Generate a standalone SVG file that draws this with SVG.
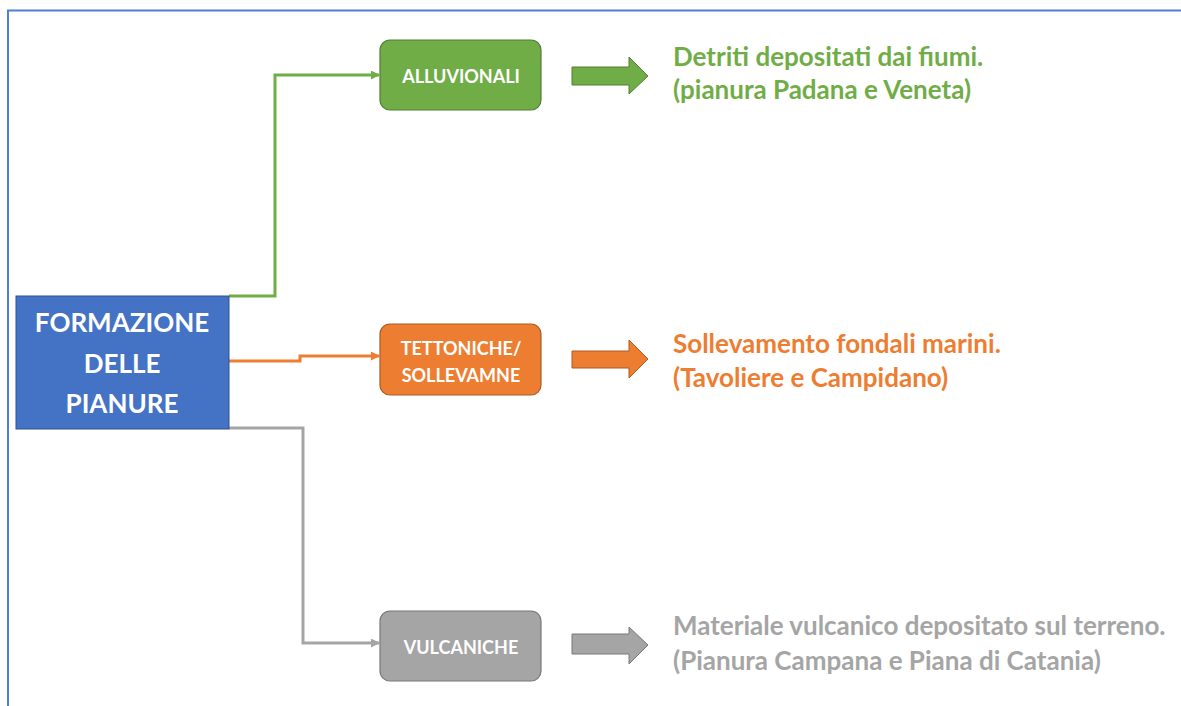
<svg xmlns="http://www.w3.org/2000/svg" width="1181" height="706" viewBox="0 0 1181 706">
<style>
.t{font-family:Lato,"Liberation Sans",sans-serif;font-weight:bold}
.w{fill:#ffffff}
.d{font-size:26px}
.b{font-size:18px}
.box{stroke-width:1.2}
.conn{fill:none;stroke-width:3}
</style>
<defs>
<marker id="ag" markerWidth="9" markerHeight="9" refX="8" refY="4.5" orient="auto" markerUnits="userSpaceOnUse"><path d="M0,0 L9,4.5 L0,9 z" fill="#70AD47"/></marker>
<marker id="ao" markerWidth="9" markerHeight="9" refX="8" refY="4.5" orient="auto" markerUnits="userSpaceOnUse"><path d="M0,0 L9,4.5 L0,9 z" fill="#ED7D31"/></marker>
<marker id="ay" markerWidth="9" markerHeight="9" refX="8" refY="4.5" orient="auto" markerUnits="userSpaceOnUse"><path d="M0,0 L9,4.5 L0,9 z" fill="#A5A5A5"/></marker>
</defs>
<rect width="1181" height="706" fill="#ffffff"/>
<path d="M8,706 L8,10.5 L1181,10.5" fill="none" stroke="#4F7FD0" stroke-width="2"/>
<g id="connectors">
<path class="conn" d="M229,296 L275,296 L275,75 L379,75" stroke="#70AD47" marker-end="url(#ag)"/>
<path class="conn" d="M229,361 L300,361 L300,356 L379,356" stroke="#ED7D31" marker-end="url(#ao)"/>
<path class="conn" d="M229,428 L303,428 L303,643 L379,643" stroke="#A5A5A5" marker-end="url(#ay)"/>
</g>
<g id="main">
<rect x="16" y="296" width="213" height="133" fill="#4472C4" stroke="#2F528F" stroke-width="1"/>
<text class="t w" x="122" y="332" font-size="26" text-anchor="middle">FORMAZIONE</text>
<text class="t w" x="122" y="373" font-size="26" text-anchor="middle">DELLE</text>
<text class="t w" x="122" y="413" font-size="26" text-anchor="middle">PIANURE</text>
</g>
<g id="alluvionali">
<rect class="box" x="380" y="40" width="161" height="70" rx="10" fill="#70AD47" stroke="#507E32"/>
<text class="t w b" x="461" y="83" text-anchor="middle">ALLUVIONALI</text>
</g>
<g id="tettoniche">
<rect class="box" x="380" y="324" width="161" height="71" rx="10" fill="#ED7D31" stroke="#AE5A21"/>
<text class="t w b" x="461" y="355" text-anchor="middle">TETTONICHE/</text>
<text class="t w b" x="461" y="382" text-anchor="middle">SOLLEVAMNE</text>
</g>
<g id="vulcaniche">
<rect class="box" x="380" y="611" width="161" height="70" rx="10" fill="#A5A5A5" stroke="#787878"/>
<text class="t w b" x="461" y="654" text-anchor="middle">VULCANICHE</text>
</g>
<g id="arrow-green">
<path d="M572,67 L629,67 L629,57 L648,76 L629,94 L629,85 L572,85 z" fill="#70AD47" stroke="#507E32" stroke-width="1"/>
</g>
<g id="arrow-orange">
<path d="M572,351 L629,351 L629,340 L648,359 L629,378 L629,368 L572,368 z" fill="#ED7D31" stroke="#AE5A21" stroke-width="1"/>
</g>
<g id="arrow-gray">
<path d="M572,634 L629,634 L629,627 L648,645 L629,664 L629,654 L572,654 z" fill="#A5A5A5" stroke="#787878" stroke-width="1"/>
</g>
<g id="desc-green">
<text class="t d" x="673" y="66" fill="#70AD47">Detriti depositati dai fiumi.</text>
<text class="t d" x="673" y="99" fill="#70AD47">(pianura Padana e Veneta)</text>
</g>
<g id="desc-orange">
<text class="t d" x="673" y="353" fill="#ED7D31">Sollevamento fondali marini.</text>
<text class="t d" x="673" y="387" fill="#ED7D31">(Tavoliere e Campidano)</text>
</g>
<g id="desc-gray">
<text class="t d" x="673" y="635" fill="#A5A5A5">Materiale vulcanico depositato sul terreno.</text>
<text class="t d" x="673" y="670" fill="#A5A5A5">(Pianura Campana e Piana di Catania)</text>
</g>
</svg>
